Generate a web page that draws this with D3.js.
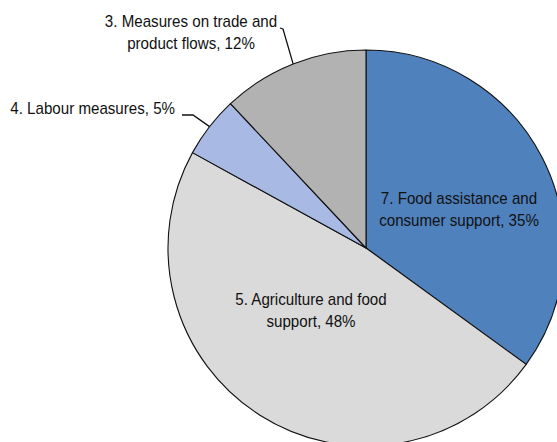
<!DOCTYPE html>
<html>
<head>
<meta charset="utf-8">
<script src="https://cdn.jsdelivr.net/npm/d3@7"></script>
<style>
  html, body { margin: 0; padding: 0; background: #fff; }
  svg { display: block; }
  text { font-family: "Liberation Sans Narrow", "Arial Narrow", "Liberation Sans", Arial, sans-serif; fill: #111; }
</style>
</head>
<body>
<svg id="chart" width="557" height="442"></svg>
<script>
// Shares of support measures (percent), in clockwise drawing order from 12 o'clock
const categories = [
  "7. Food assistance and consumer support",
  "5. Agriculture and food support",
  "4. Labour measures",
  "3. Measures on trade and product flows"
];
const shares = [35, 48, 5, 12];
const sliceColors = ["#4f81bd", "#dadada", "#a8bae4", "#b2b2b2"];
// Label lines as drawn on the chart
const labelLines = [
  ["7. Food assistance and", "consumer support, 35%"],
  ["5. Agriculture and food", "support, 48%"],
  ["4. Labour measures, 5%"],
  ["3. Measures on trade and", "product flows, 12%"]
];

const svg = d3.select("#chart");
const cx = 366, cy = 248, r = 198;

const data = categories.map((c, i) => ({ name: c, value: shares[i], color: sliceColors[i], lines: labelLines[i] }));

const pie = d3.pie().value(d => d.value).sort(null);
const arc = d3.arc().innerRadius(0).outerRadius(r);
const arcs = pie(data);

const g = svg.append("g").attr("transform", `translate(${cx},${cy})`);

g.selectAll("path.slice")
  .data(arcs)
  .enter().append("path")
  .attr("class", "slice")
  .attr("d", arc)
  .attr("fill", d => d.data.color)
  .attr("stroke", "#111")
  .attr("stroke-width", 1.1)
  .attr("stroke-linejoin", "round");

// Labels use a condensed face: regular glyphs squeezed horizontally
const fontSize = 17;
const squeeze = 0.89;
const lineGap = 22;
const labelPos = [
  { x: 459, y: 204, anchor: "middle" },
  { x: 311, y: 305, anchor: "middle" },
  { x: 175, y: 114, anchor: "end" },
  { x: 191, y: 27, anchor: "middle" }
];

arcs.forEach((a, i) => {
  const p = labelPos[i];
  const t = svg.append("text")
    .attr("transform", `translate(${p.x},${p.y}) scale(${squeeze},1)`)
    .attr("text-anchor", p.anchor)
    .attr("font-size", fontSize);
  a.data.lines.forEach((ln, k) => {
    t.append("tspan").attr("x", 0).attr("y", k * lineGap).text(ln);
  });
});

// Leader lines from outside labels to the arc edge at the slice midpoint
const edgePoint = (a, rr) => {
  const m = (a.startAngle + a.endAngle) / 2;
  return [cx + rr * Math.sin(m), cy - rr * Math.cos(m)];
};
const leaderPaths = [
  [[182, 115], [193, 115], edgePoint(arcs[2], r)],
  [[280, 28], [283, 29], edgePoint(arcs[3], r)]
];
svg.selectAll("path.leader")
  .data(leaderPaths)
  .enter().append("path")
  .attr("class", "leader")
  .attr("d", d3.line())
  .attr("fill", "none")
  .attr("stroke", "#111")
  .attr("stroke-width", 1.3);
</script>
</body>
</html>
